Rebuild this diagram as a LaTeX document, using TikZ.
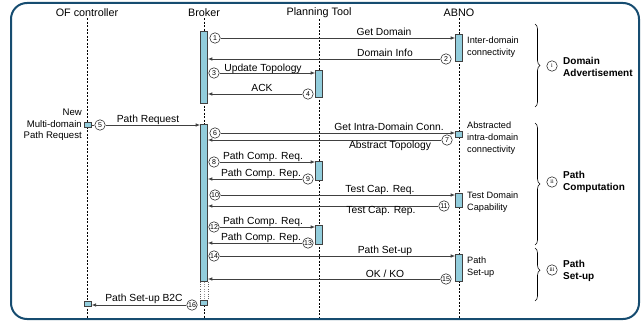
\documentclass[tikz,border=0pt]{standalone}
\usepackage{fontspec}
\setmainfont{Liberation Sans}
\newfontfamily\romfont{Liberation Serif}
\usetikzlibrary{arrows.meta,decorations.pathreplacing}
\definecolor{frame}{RGB}{22,76,112}
\definecolor{barblue}{RGB}{146,205,220}
\begin{document}
\begin{tikzpicture}[x=1pt,y=-1pt,
  head/.style={font=\fontsize{10.8}{12}\selectfont, inner sep=1pt},
  msgl/.style={font=\fontsize{10.3}{12}\selectfont, inner sep=0pt},
  side/.style={font=\fontsize{9.2}{12}\selectfont, inner sep=0pt, align=left, anchor=west},
  phase/.style={font=\bfseries\fontsize{10}{12}\selectfont, inner sep=0pt, align=left, anchor=west},
  bar/.style={draw=black!75, fill=barblue, minimum width=7pt, inner sep=0pt, line width=0.6pt, anchor=north},
  num/.style={circle, draw=black!85, fill=white, minimum size=10.5pt, inner sep=0pt, font=\fontsize{7}{7}\selectfont, line width=0.55pt},
  rnum/.style={circle, draw=black!85, fill=white, minimum size=10.5pt, inner sep=0pt, font=\romfont\fontsize{6}{6}\selectfont, line width=0.55pt},
  msg/.style={draw=black!75, line width=0.8pt, -{Latex[length=4.5pt,width=3.6pt]}},
  plain/.style={draw=black!75, line width=0.8pt},
  life/.style={draw=black, dash pattern=on 2pt off 1.5pt, line width=0.5pt},
  brc/.style={draw=black, line width=0.6pt, decorate, decoration={brace, amplitude=5pt}},
]
\useasboundingbox (0,0) rectangle (642,323);
\draw[line width=2pt, draw=frame, rounded corners=16pt] (11,3) rectangle (639,319);

% headers and lifelines
\node[head] (hof) at (87,13) {OF controller};
\node[head] (hbr) at (204,13) {Broker};
\node[head] (hpt) at (319,13) {Planning Tool};
\node[head] (hab) at (459,13) {ABNO};
\coordinate (eof) at (87,318);
\coordinate (ebr) at (204,318);
\coordinate (ept) at (319,318);
\coordinate (eab) at (459,318);
\draw[life] (hof.south) -- (eof);
\draw[life] (hbr.south) -- (ebr);
\draw[life] (hpt.south) -- (ept);
\draw[life] (hab.south) -- (eab);

% activation bars
\node[bar, minimum height=72pt] (brk1) at (204,31) {};
\node[bar, minimum height=157pt] (brk2) at (204,124) {};
\node[bar, minimum height=5pt] (brk3) at (204,300) {};
\fill[white] (brk2.south west) rectangle (brk3.north east);
\draw[dotted, black!60] (brk2.south west) -- (brk3.north west);
\draw[dotted, black!60] (brk2.south east) -- (brk3.north east);
\draw[dotted, black!40] (brk2.south) -- (brk3.north);
\node[bar, minimum height=27pt] (pt1) at (319,70) {};
\node[bar, minimum height=19pt] (pt2) at (319,161) {};
\node[bar, minimum height=19pt] (pt3) at (319,225) {};
\node[bar, minimum height=27pt] (ab1) at (459,34) {};
\node[bar, minimum height=6pt] (ab2) at (459,131) {};
\node[bar, minimum height=14pt] (ab3) at (459,193) {};
\node[bar, minimum height=27pt] (ab4) at (459,254) {};
\node[bar, minimum height=5pt, minimum width=6.5pt] (of1) at (88,122) {};
\node[bar, minimum height=5pt, minimum width=6.5pt] (of2) at (88,301) {};

% numbered circles
\node[num] (c1) at (215,38) {1};
\node[num] (c2) at (446,59) {2};
\node[num] (c3) at (214,73) {3};
\node[num] (c4) at (308,94) {4};
\node[num] (c5) at (100,125) {5};
\node[num] (c6) at (215,133) {6};
\node[num] (c7) at (447,140) {7};
\node[num] (c8) at (214,162) {8};
\node[num] (c9) at (308,179) {9};
\node[num] (c10) at (215,195) {10};
\node[num] (c11) at (444,206) {11};
\node[num] (c12) at (214,227) {12};
\node[num] (c13) at (308,243) {13};
\node[num] (c14) at (214,256) {14};
\node[num] (c15) at (446,279) {15};
\node[num] (c16) at (192,305) {16};

% messages
\draw[msg] (c1.east) -- (c1.east -| ab1.west);
\draw[msg] (c2.west) -- (c2.west -| brk1.east);
\draw[msg] (c3.east) -- (c3.east -| pt1.west);
\draw[msg] (c4.west) -- (c4.west -| brk1.east);
\draw[plain] (of1.east |- c5.west) -- (c5.west);
\draw[msg] (c5.east) -- (c5.east -| brk2.west);
\draw[msg] (c6.east) -- (c6.east -| ab2.west);
\draw[msg] (c7.west) -- (c7.west -| brk2.east);
\draw[msg] (c8.east) -- (c8.east -| pt2.west);
\draw[msg] (c9.west) -- (c9.west -| brk2.east);
\draw[msg] (c10.east) -- (c10.east -| ab3.west);
\draw[msg] (c11.west) -- (c11.west -| brk2.east);
\draw[msg] (c12.east) -- (c12.east -| pt3.west);
\draw[msg] (c13.west) -- (c13.west -| brk2.east);
\draw[msg] (c14.east) -- (c14.east -| ab4.west);
\draw[msg] (c15.west) -- (c15.west -| brk2.east);
\draw[msg] (c16.west) -- (c16.west -| of2.east);

% message labels
\node[msgl, anchor=base] (l1) at (384,36) {Get Domain};
\node[msgl, anchor=base] (l2) at (385,57) {Domain Info};
\node[msgl, anchor=base] (l3) at (263,71.5) {Update Topology};
\node[msgl, anchor=base] (l4) at (262,92) {ACK};
\node[msgl, anchor=base] (l5) at (148,123) {Path Request};
\node[msgl, anchor=base] (l6) at (389,130.5) {Get Intra-Domain Conn.};
\node[msgl, anchor=base] (l7) at (390,149) {Abstract Topology};
\node[msgl, anchor=base] (l8) at (263,160) {Path Comp. Req.};
\node[msgl, anchor=base] (l9) at (261,177) {Path Comp. Rep.};
\node[msgl, anchor=base] (l10) at (380,192.5) {Test Cap. Req.};
\node[msgl, anchor=base] (l11) at (381,213) {Test Cap. Rep.};
\node[msgl, anchor=base] (l12) at (263,224.5) {Path Comp. Req.};
\node[msgl, anchor=base] (l13) at (261,240.5) {Path Comp. Rep.};
\node[msgl, anchor=base] (l14) at (385,253.5) {Path Set-up};
\node[msgl, anchor=base] (l15) at (385,277) {OK / KO};
\node[msgl, anchor=base] (l16) at (144,301.5) {Path Set-up B2C};

% side notes
\node[side] (s1) at (467,47) {Inter-domain\\connectivity};
\node[side] (s2) at (467,138.5) {Abstracted\\intra-domain\\connectivity};
\node[side] (s3) at (467,202) {Test Domain\\Capability};
\node[side] (s4) at (467,267.5) {Path\\Set-up};

% phases
\coordinate (b1t) at (535,24);
\coordinate (b1b) at (535,107);
\coordinate (b2t) at (535,123);
\coordinate (b2b) at (535,245);
\coordinate (b3t) at (535,248);
\coordinate (b3b) at (535,301);
\draw[brc] (b1t) -- (b1b);
\draw[brc] (b2t) -- (b2b);
\draw[brc, decoration={aspect=0.42}] (b3t) -- (b3b);
\node[rnum] (r1) at (552,66) {i};
\node[rnum] (r2) at (552,182) {ii};
\node[rnum] (r3) at (552,270) {iii};
\node[phase] (p1) at (563,67) {Domain\\Advertisement};
\node[phase] (p2) at (563,182) {Path\\Computation};
\node[phase] (p3) at (563,271) {Path\\Set-up};

% new request note
\node[side, align=right, anchor=east, font=\fontsize{9.6}{11.5}\selectfont] (nr) at (82,125) {New\\Multi-domain\\Path Request};
\end{tikzpicture}
\end{document}
